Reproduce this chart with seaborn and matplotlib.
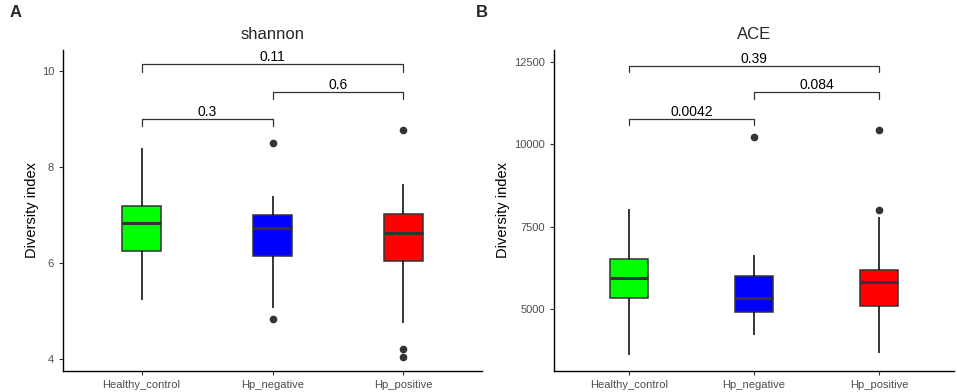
import matplotlib
matplotlib.use("Agg")
import matplotlib.pyplot as plt
import seaborn as sns
import pandas as pd

# ---- data ----
groups = ["Healthy_control", "Hp_negative", "Hp_positive"]
colors = ["#00FF00", "#0000FF", "#FF0000"]

# samples reconstructed so quartiles / whiskers / outliers match the picture
shannon_healthy = [5.24, 6.25, 6.83, 7.19, 8.39]
shannon_neg = [4.83, 5.06, 6.15, 6.74, 6.74, 7.00, 7.00, 7.40, 8.51]
shannon_pos = [4.05, 4.21, 4.74, 6.05, 6.05, 6.62, 6.62, 6.62, 7.02, 7.02, 7.02, 7.64, 8.77]

ace_healthy = [3610, 5355, 5958, 6542, 8054]
ace_neg = [4214, 4930, 4930, 5342, 5342, 6028, 6028, 6663, 10222]
ace_pos = [3670, 5101, 5101, 5101, 5826, 5826, 5826, 6210, 6210, 6210, 7803, 8014, 10443]

shannon_pvals = ["0.3", "0.6", "0.11"]
ace_pvals = ["0.0042", "0.084", "0.39"]
pairs = [(0, 1), (1, 2), (0, 2)]
shannon_bracket_y = [9.01, 9.57, 10.14]
ace_bracket_y = [10776, 11584, 12388]

shannon_ticks = [4, 6, 8, 10]
ace_ticks = [5000, 7500, 10000, 12500]


def make_df(samples):
    rows = []
    for g, vals in zip(groups, samples):
        for v in vals:
            rows.append({"group": g, "value": v})
    return pd.DataFrame(rows)


sns.set_theme(style="ticks")
plt.rcParams["font.family"] = ["Liberation Sans", "DejaVu Sans"]

fig = plt.figure(figsize=(9.57, 3.92), dpi=100)
W, H = 957, 392
ax1 = fig.add_axes([63 / W, 1 - 371 / H, (482 - 63) / W, (371 - 50) / H])
ax2 = fig.add_axes([554 / W, 1 - 371 / H, (954 - 554) / W, (371 - 50) / H])

edge = "#333333"


def draw(ax, samples, title, ylim, ticks, pvals, by, tip):
    df = make_df(samples)
    sns.boxplot(data=df, x="group", y="value", hue="group", palette=colors,
                order=groups, hue_order=groups, legend=False, ax=ax,
                width=0.3, showcaps=False, linewidth=1.1, linecolor=edge,
                whis=1.5, saturation=1,
                medianprops=dict(color=edge, linewidth=2.2),
                whiskerprops=dict(color="black", linewidth=1.1),
                flierprops=dict(marker="o", markersize=4.5, markerfacecolor=edge,
                                markeredgecolor=edge))
    ax.set_xlim(-0.6, 2.6)
    ax.set_ylim(*ylim)
    ax.set_yticks(ticks)
    ax.set_xlabel("")
    ax.set_ylabel("Diversity index", fontsize=10.5, color="black")
    ax.set_title(title, fontsize=12, pad=8)
    for s in ["top", "right"]:
        ax.spines[s].set_visible(False)
    for s in ["left", "bottom"]:
        ax.spines[s].set_linewidth(1.0)
        ax.spines[s].set_color("black")
    ax.tick_params(axis="both", labelsize=8, colors="#333333", length=3,
                   width=0.8, direction="out")
    ax.tick_params(axis="both", labelcolor="#4D4D4D")
    for (a, b), p, y in zip(pairs, pvals, by):
        ax.plot([a, a, b, b], [y - tip, y, y, y - tip], color="#333333",
                lw=0.9, clip_on=False)
        ax.text((a + b) / 2, y, p, ha="center", va="bottom", fontsize=10,
                color="black")


draw(ax1, [shannon_healthy, shannon_neg, shannon_pos], "shannon", (3.75, 10.44),
     shannon_ticks, shannon_pvals, shannon_bracket_y, 0.15)
draw(ax2, [ace_healthy, ace_neg, ace_pos], "ACE", (3134, 12863),
     ace_ticks, ace_pvals, ace_bracket_y, 200)

ax1.yaxis.set_label_coords(-0.057, 0.5)
ax2.yaxis.set_label_coords(-0.11, 0.5)

fig.text(10 / W, 1 - 5 / H, "A", fontsize=12, fontweight="bold", va="top", ha="left")
fig.text(476 / W, 1 - 5 / H, "B", fontsize=12, fontweight="bold", va="top", ha="left")

fig.savefig("out.png", dpi=100)
